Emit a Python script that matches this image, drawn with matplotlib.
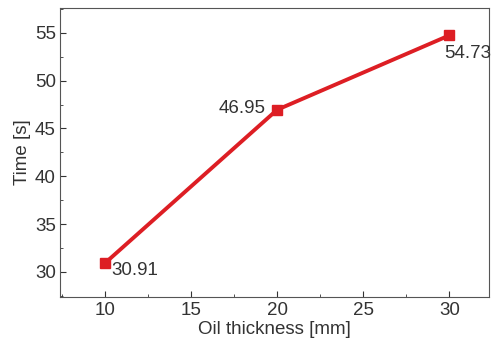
import matplotlib
matplotlib.use("Agg")
import matplotlib.pyplot as plt
from matplotlib.ticker import MultipleLocator

thickness = [10, 20, 30]
times = [30.91, 46.95, 54.73]
labels = ["30.91", "46.95", "54.73"]

plt.rcParams['font.family'] = ['Liberation Sans', 'DejaVu Sans']

fig = plt.figure(figsize=(4.92, 3.42), dpi=100)
ax = fig.add_axes([0.122, 0.132, 0.872, 0.845])

ax.plot(thickness, times, color="#dd1e24", linewidth=2.8, marker="s",
        markersize=7, zorder=3)

# value labels
offsets = [(5, -5), (-42, 1), (-4, -13)]
for x, y, txt, off in zip(thickness, times, labels, offsets):
    ax.annotate(txt, (x, y), xytext=off, textcoords="offset points",
                fontsize=13.5, color="#333333", va="center")

ax.set_xlim(7.4, 32.3)
ax.set_ylim(27.4, 57.6)
ax.xaxis.set_major_locator(MultipleLocator(5))
ax.xaxis.set_minor_locator(MultipleLocator(2.5))
ax.yaxis.set_major_locator(MultipleLocator(5))
ax.yaxis.set_minor_locator(MultipleLocator(2.5))
ax.tick_params(which="both", direction="in", labelsize=13.5, colors="#333333")
ax.tick_params(which="major", length=4)
ax.tick_params(which="minor", length=2.5)
ax.tick_params(axis="x", pad=4)
ax.tick_params(axis="y", pad=3)

ax.set_xlabel("Oil thickness [mm]", fontsize=13.5, color="#333333", labelpad=1)
ax.set_ylabel("Time [s]", fontsize=13.5, color="#333333", labelpad=3)

for s in ax.spines.values():
    s.set_color("#555555")

fig.savefig("out.png", dpi=100)
